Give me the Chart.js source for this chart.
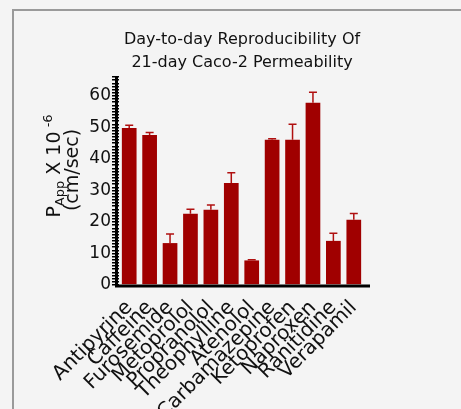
<!DOCTYPE html>
<html>
<head>
<meta charset="utf-8">
<script src="https://cdn.jsdelivr.net/npm/chart.js@4"></script>
<style>
  body { margin: 0; background: #f4f4f4; }
  .wrap { position: relative; width: 461px; height: 409px; overflow: hidden; }
  .frame { position: absolute; left: 12px; top: 9px; width: 500px; height: 500px;
           border-top: 2px solid #9a9a9a; border-left: 2px solid #9a9a9a; }
  canvas { position: absolute; left: 0; top: 0; }
</style>
</head>
<body>
<div class="wrap">
  <div class="frame"></div>
  <canvas id="chart" width="461" height="409"></canvas>
</div>
<script>
// values
const drugs = ["Antipyrine", "Caffeine", "Furosemide", "Metoprolol", "Propranolol", "Theophylline",
  "Atenolol", "Carbamazepine", "Ketoprofen", "Naproxen", "Ranitidine", "Verapamil"];
const papp = [49.8, 47.6, 13.3, 22.6, 23.9, 32.4, 7.8, 46.1, 46.1, 57.8, 14.0, 20.7];
const sd = [0.9, 0.8, 2.9, 1.4, 1.5, 3.2, 0.2, 0.3, 4.9, 3.4, 2.4, 2.0];
const yLabels = [0, 10, 20, 30, 40, 50, 60];

const barColor = "#a00000";
const font = "'DejaVu Sans', sans-serif";

// error bars (upper only), axis lines, titles
const extras = {
  id: "extras",
  afterDatasetsDraw(chart) {
    const ctx = chart.ctx;
    const x = chart.scales.x, y = chart.scales.y;
    const area = chart.chartArea;
    ctx.save();
    ctx.strokeStyle = "#b01010";
    ctx.lineWidth = 1.5;
    papp.forEach((v, i) => {
      if (sd[i] <= 0) return;
      const px = x.getPixelForValue(i);
      const top = y.getPixelForValue(v + sd[i]);
      const base = y.getPixelForValue(v);
      ctx.beginPath();
      ctx.moveTo(px, base);
      ctx.lineTo(px, top);
      ctx.moveTo(px - 4, top);
      ctx.lineTo(px + 4, top);
      ctx.stroke();
    });

    // axes: GraphPad style, x axis runs a bit past the last bar
    ctx.strokeStyle = "#000";
    ctx.lineWidth = 3;
    ctx.beginPath();
    ctx.moveTo(116.5, area.top);
    ctx.lineTo(116.5, area.bottom + 1.5);
    ctx.moveTo(115, area.bottom + 1);
    ctx.lineTo(370, area.bottom + 1);
    ctx.stroke();
    ctx.restore();
  },
  afterDraw(chart) {
    const ctx = chart.ctx;
    ctx.save();
    ctx.fillStyle = "#111";
    ctx.textAlign = "center";
    ctx.textBaseline = "alphabetic";
    ctx.font = "16px " + font;
    ctx.fillText("Day-to-day Reproducibility Of", 242, 44);
    ctx.fillText("21-day Caco-2 Permeability", 242, 67);

    // y axis title, rotated, with sub/superscript
    ctx.rotate(-Math.PI / 2);
    const big = "19px " + font, small = "13px " + font;
    const parts = [
      { t: "P", f: big, dy: 0 },
      { t: "App", f: small, dy: 4 },
      { t: " X 10", f: big, dy: 0 },
      { t: " -6", f: small, dy: -8 }
    ];
    let w = 0;
    parts.forEach(p => { ctx.font = p.f; p.w = ctx.measureText(p.t).width; w += p.w; });
    let cx = -166 - w / 2;
    ctx.textAlign = "left";
    parts.forEach(p => {
      ctx.font = p.f;
      ctx.fillText(p.t, cx, 60 + p.dy);
      cx += p.w;
    });
    ctx.font = big;
    ctx.textAlign = "center";
    ctx.fillText("(cm/sec)", -170, 78);
    ctx.restore();
  }
};

new Chart(document.getElementById("chart"), {
  type: "bar",
  data: {
    labels: drugs,
    datasets: [{
      data: papp,
      backgroundColor: barColor,
      borderWidth: 0,
      barPercentage: 0.72,
      categoryPercentage: 1.0
    }]
  },
  options: {
    responsive: false,
    animation: false,
    layout: { padding: { top: 77, right: 97, left: 0, bottom: 0 } },
    plugins: { legend: { display: false }, tooltip: { enabled: false } },
    scales: {
      x: {
        grid: { display: false },
        border: { display: false },
        ticks: {
          color: "#111",
          font: { family: font, size: 20 },
          minRotation: 45,
          maxRotation: 45,
          autoSkip: false,
          padding: 3
        },
        afterFit(s) { s.height = 124; }
      },
      y: {
        min: 0,
        max: 66,
        grid: { drawOnChartArea: false, drawTicks: true, tickLength: 7, color: "#000", lineWidth: 1.5 },
        border: { display: false },
        ticks: {
          stepSize: 1,
          autoSkip: false,
          color: "#111",
          padding: 1,
          font: { family: font, size: 17 },
          callback: v => (yLabels.includes(v) ? String(v) : "")
        },
        afterFit(s) { s.width = 119; }
      }
    }
  },
  plugins: [extras]
});
</script>
</body>
</html>
